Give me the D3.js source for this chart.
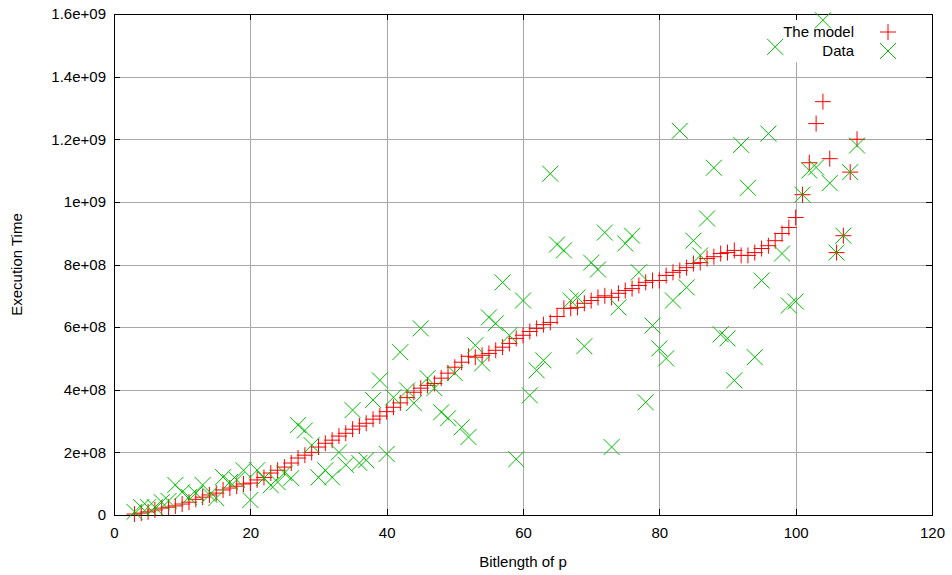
<!DOCTYPE html>
<html>
<head>
<meta charset="utf-8">
<script src="https://cdn.jsdelivr.net/npm/d3@7/dist/d3.min.js"></script>
<style>
  html, body { margin: 0; padding: 0; background: #fff; }
  svg text { font-family: "Liberation Sans", Arial, Helvetica, sans-serif; font-size: 15px; fill: #000; }
</style>
</head>
<body>
<svg id="chart" width="952" height="575"></svg>
<script>
// Bit length of p for each measurement
const bitlengths = [3,4,5,6,7,8,9,10,11,12,13,14,15,16,17,18,19,20,21,22,23,24,25,26,27,28,29,30,
  31,32,33,34,35,36,37,38,39,40,41,42,43,44,45,46,47,48,49,50,51,52,53,54,55,56,57,58,59,60,
  61,62,63,64,65,66,67,68,69,70,71,72,73,74,75,76,77,78,79,80,81,82,83,84,85,86,87,88,89,90,
  91,92,93,94,95,96,97,98,99,100,101,102,103,104,105,106,107,108,109];

// Predicted execution time (units of 1e8)
const modelTime = [0.03,0.06,0.10,0.16,0.22,0.25,0.29,0.35,0.41,0.50,0.57,0.64,0.70,0.80,0.86,0.92,0.99,1.02,
  1.12,1.20,1.34,1.43,1.53,1.66,1.82,1.91,2.00,2.17,2.29,2.39,2.52,2.61,2.74,2.84,2.93,3.06,3.16,3.30,
  3.44,3.58,3.75,3.92,4.05,4.14,4.20,4.37,4.53,4.72,4.88,5.07,5.04,5.10,5.16,5.26,5.36,5.48,5.64,5.74,
  5.86,5.96,6.08,6.15,6.34,6.60,6.60,6.63,6.76,6.85,6.95,7.00,6.95,7.08,7.17,7.23,7.33,7.43,7.49,7.49,
  7.65,7.75,7.81,7.90,8.03,8.06,8.19,8.25,8.35,8.38,8.45,8.29,8.29,8.38,8.51,8.60,8.76,8.99,9.18,9.50,
  10.23,11.25,12.50,13.20,11.38,8.38,8.92,10.95,12.00];

// Measured execution time (units of 1e8)
const dataTime = [0.10,0.25,0.25,0.25,0.41,0.45,0.96,0.73,0.57,0.70,0.96,0.64,0.54,1.21,1.05,1.12,1.43,0.48,
  1.43,1.18,0.95,1.05,1.34,1.18,2.87,2.70,2.23,1.20,1.43,1.20,2.00,1.60,3.35,1.66,1.75,3.67,4.30,1.95,
  3.76,5.20,3.98,3.57,5.96,4.37,4.05,3.28,3.09,4.53,2.80,2.49,5.42,4.84,6.31,6.12,7.43,5.74,1.78,6.85,
  3.82,4.62,4.94,10.90,8.64,8.45,6.85,6.95,5.39,8.06,7.84,9.02,2.17,6.63,8.67,8.92,7.75,3.60,6.05,5.32,
  5.00,6.85,12.27,7.27,8.76,8.29,9.47,11.09,5.77,5.64,4.30,11.82,10.45,5.04,7.49,12.18,14.95,8.35,6.69,6.82,
  10.23,11.00,11.10,15.80,10.60,8.38,8.92,10.95,11.80];

const xTicks = [0,20,40,60,80,100,120];
const yTicks = [0,2,4,6,8,10,12,14,16];
const yTickLabels = ["0","2e+08","4e+08","6e+08","8e+08","1e+09","1.2e+09","1.4e+09","1.6e+09"];
const seriesNames = ["The model","Data"];

(function draw() {
  const pl = 114, pr = 932, pt = 14, pb = 515;
  const svg = d3.select("#chart");

  const x = d3.scaleLinear().domain([0,120]).range([pl, pr]);
  const y = d3.scaleLinear().domain([0,16]).range([pb, pt]);

  // grid
  const grid = svg.append("g").attr("stroke", "#a8a8a8").attr("stroke-width", 1).attr("shape-rendering", "crispEdges");
  grid.selectAll("line.gx").data(xTicks.slice(1, -1)).join("line")
    .attr("x1", d => Math.round(x(d)) + 0.5).attr("x2", d => Math.round(x(d)) + 0.5)
    .attr("y1", pt).attr("y2", pb);
  grid.selectAll("line.gy").data(yTicks.slice(1, -1)).join("line")
    .attr("y1", d => Math.round(y(d)) + 0.5).attr("y2", d => Math.round(y(d)) + 0.5)
    .attr("x1", pl).attr("x2", pr);

  // key area is kept clear of grid lines
  const keyX0 = 772, keyY0 = pt + 1, keyY1 = 62;
  svg.append("rect").attr("x", keyX0).attr("y", keyY0).attr("width", pr - keyX0 - 1).attr("height", keyY1 - keyY0).attr("fill", "#fff");

  // axes with inward ticks, mirrored on top and right
  const tickLen = 6;
  const axisB = d3.axisBottom(x).tickValues(xTicks).tickSize(-tickLen).tickPadding(12).tickFormat(d3.format("d"));
  const axisT = d3.axisTop(x).tickValues(xTicks).tickSize(-tickLen).tickFormat("");
  const axisL = d3.axisLeft(y).tickValues(yTicks).tickSize(-tickLen).tickPadding(8).tickFormat((d, i) => yTickLabels[i]);
  const axisR = d3.axisRight(y).tickValues(yTicks).tickSize(-tickLen).tickFormat("");

  function styleAxis(g) {
    g.select(".domain").remove();
    g.selectAll(".tick line").attr("stroke", "#000").attr("shape-rendering", "crispEdges");
    g.attr("font-family", null).attr("font-size", null);
  }
  svg.append("g").attr("transform", `translate(0,${pb})`).call(axisB).call(styleAxis);
  svg.append("g").attr("transform", `translate(0,${pt})`).call(axisT).call(styleAxis);
  svg.append("g").attr("transform", `translate(${pl},0)`).call(axisL).call(styleAxis);
  svg.append("g").attr("transform", `translate(${pr},0)`).call(axisR).call(styleAxis);

  // border
  svg.append("rect").attr("x", pl + 0.5).attr("y", pt + 0.5).attr("width", pr - pl).attr("height", pb - pt)
    .attr("fill", "none").attr("stroke", "#000").attr("stroke-width", 1).attr("shape-rendering", "crispEdges");

  // axis titles
  svg.append("text").attr("x", (pl + pr) / 2).attr("y", 567).attr("text-anchor", "middle").text("Bitlength of p");
  svg.append("text").attr("transform", `translate(22,${(pt + pb) / 2}) rotate(-90)`).attr("text-anchor", "middle").text("Execution Time");

  const s = 8;
  const plusPath = (cx, cy) => `M${cx - s},${cy}H${cx + s}M${cx},${cy - s}V${cy + s}`;
  const crossPath = (cx, cy) => `M${cx - s},${cy - s}L${cx + s},${cy + s}M${cx - s},${cy + s}L${cx + s},${cy - s}`;
  const red = "#ff0000", green = "#00c000";

  const model = bitlengths.map((b, i) => ({ b, v: modelTime[i] }));
  const data = bitlengths.map((b, i) => ({ b, v: dataTime[i] }));

  svg.append("g").selectAll("path").data(model).join("path")
    .attr("d", d => plusPath(x(d.b), y(d.v)))
    .attr("stroke", red).attr("stroke-width", 1).attr("fill", "none");
  svg.append("g").selectAll("path").data(data).join("path")
    .attr("d", d => crossPath(x(d.b), y(d.v)))
    .attr("stroke", green).attr("stroke-width", 1).attr("fill", "none");

  // key
  const key = svg.append("g");
  const keyRows = [{ name: seriesNames[0], color: red, shape: plusPath, cy: 32 },
                   { name: seriesNames[1], color: green, shape: crossPath, cy: 51 }];
  keyRows.forEach(r => {
    key.append("text").attr("x", 854).attr("y", r.cy + 5).attr("text-anchor", "end").text(r.name);
    key.append("path").attr("d", r.shape(888, r.cy)).attr("stroke", r.color).attr("stroke-width", 1).attr("fill", "none");
  });
})();
</script>
</body>
</html>
